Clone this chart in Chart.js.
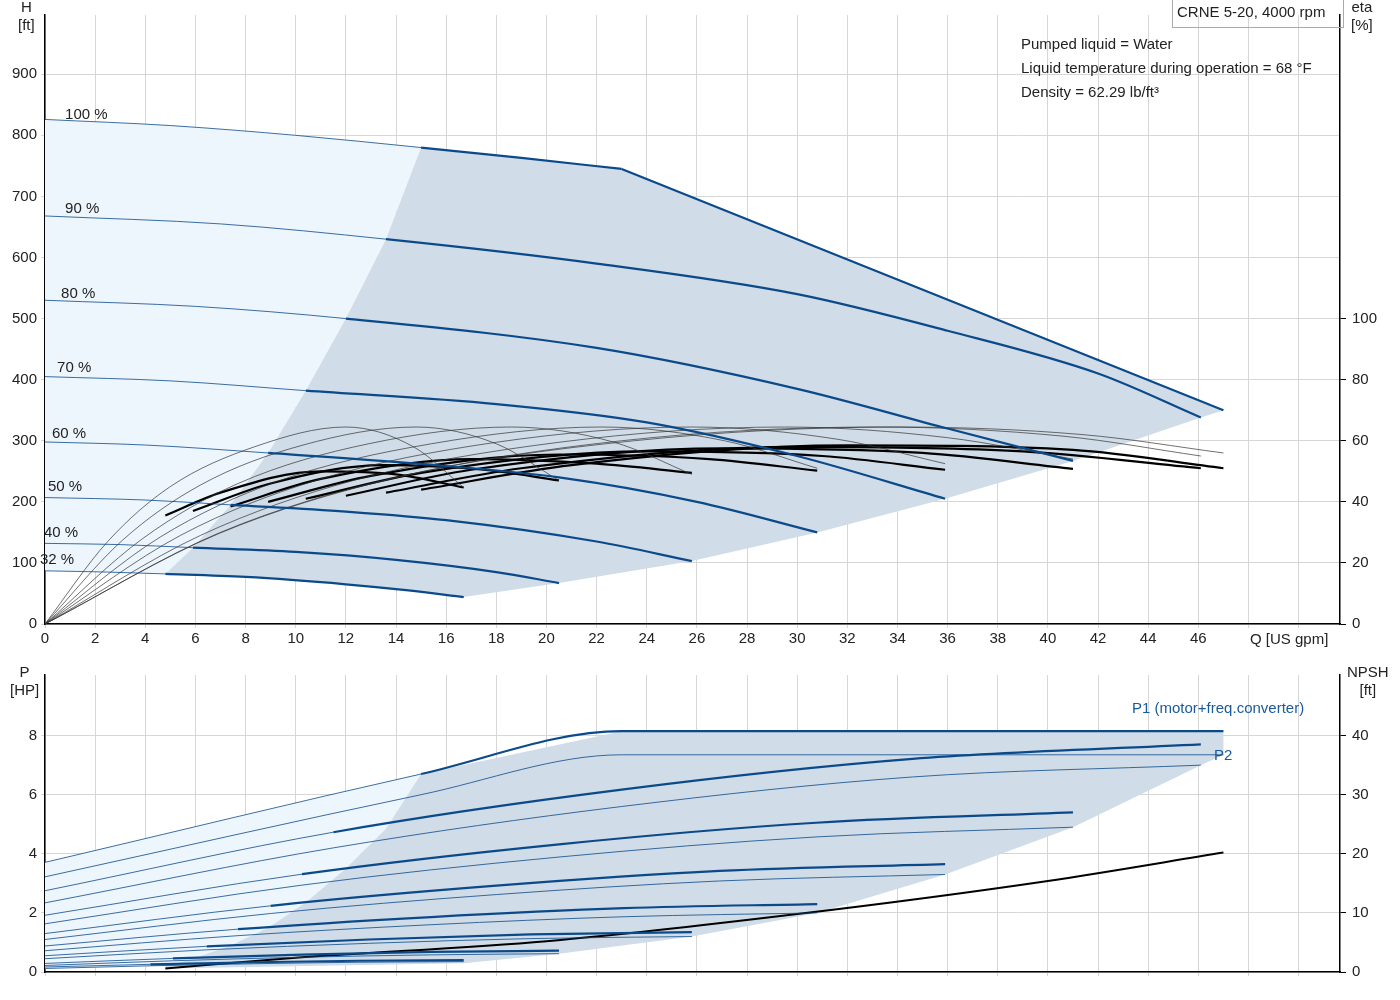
<!DOCTYPE html>
<html><head><meta charset="utf-8">
<script src="https://cdn.jsdelivr.net/npm/chart.js@4.4.1/dist/chart.umd.min.js"></script>
<style>
body{margin:0;background:#fff;font-family:"Liberation Sans",Arial,sans-serif;}
#wrap{position:relative;width:1400px;height:1000px;}
canvas{position:absolute;left:0;}
.t{position:absolute;font-size:15px;color:#222;white-space:nowrap;line-height:18px;}
</style></head><body><div id="wrap">
<canvas id="c1" style="top:0" width="1400" height="660"></canvas>
<canvas id="c2" style="top:660px" width="1400" height="340"></canvas>
<div class="t" style="left:18px;top:-2px;text-align:center">H<br>[ft]</div>
<div class="t" style="left:1351px;top:-2px;text-align:center">eta<br>[%]</div>
<div class="t" style="left:1250px;top:630px">Q [US gpm]</div>
<div class="t" style="left:10px;top:663px;text-align:center">P<br>[HP]</div>
<div class="t" style="left:1347px;top:663px;text-align:center">NPSH<br>[ft]</div>
<div class="t" style="left:1172px;top:0;width:166px;height:27px;border:1px solid #aaa;border-top:none;padding-left:4px;line-height:24px">CRNE 5-20, 4000 rpm</div>
<div class="t" style="left:1021px;top:35px">Pumped liquid = Water</div>
<div class="t" style="left:1021px;top:59px">Liquid temperature during operation = 68 °F</div>
<div class="t" style="left:1021px;top:83px">Density = 62.29 lb/ft³</div>
<div class="t" style="left:1132px;top:699px;color:#1a5a9a">P1 (motor+freq.converter)</div>
<div class="t" style="left:1214px;top:746px;color:#1a5a9a">P2</div>
</div>
<script>
// ---- data ----
const speeds = ["100 %","90 %","80 %","70 %","60 %","50 %","40 %","32 %"];
const qStart = [15,13.6,12,10.4,8.9,7.4,5.9,4.8];
const hQ = [[0,5,10,15,19,23],[0,7,13.6,22,30,36,42,46.1],[0,6,12,22,30,36,41],[0,5,10.4,18,24,30,35.9],[0,4,8.9,15,20.5,26,30.8],[0,4,7.4,12,16,22,25.8],[0,3,5.9,10,14,18,20.5],[0,2.5,4.8,8,12,14.5,16.7]];
const hH = [[826,816,800,780,763,745],[668,655,630,590,540,480,410,338],[530,520,500,452,385,320,267],[405,398,382,360,330,275,205],[298,293,280,262,240,200,150],[207,203,195,184,170,135,103],[132,130,125,118,105,85,67],[87,85,82,77,65,55,44]];
const limitQ = [23,47], limitH = [745,350];
const boundQ = [4.8,5.9,7.4,8.9,10.4,12,13.6,15], boundH = [82,125,195,280,382,500,630,780];
const endQ = [16.7,20.5,25.8,30.8,35.9,41,46.1,47], endH = [44,67,103,150,205,267,338,350];
const labQ = [0.8,0.8,0.64,0.48,0.28,0.12,-0.04,-0.2], labH = [834,679,540,419,312,224,150,105];
// thin efficiency curves
const etaQ = [[0,7,14,23.5,34,41.4,47],[0,6.9,13.8,23,33.2,40.6,46.1],[0,6.2,12.3,20.5,29.5,36,41],[0,5.4,10.8,18,25.8,31.6,35.9],[0,4.6,9.2,15.4,22.2,27.1,30.8],[0,3.9,7.7,12.9,18.6,22.7,25.8],[0,3.1,6.2,10.25,14.8,18,20.5],[0,2.5,5,8.35,12,14.7,16.7]];
const etaV = [[0,30,48,60,64.5,62,56],[0,29.5,47.5,60,64.5,61.5,55],[0,29,47,59.5,64.5,61,54],[0,29,47,59.5,64.5,60.5,52.5],[0,28.5,46.5,59,64.5,60,51],[0,28,46,59,64.5,59.5,49],[0,27.5,45.5,58.5,64.5,59,47],[0,27,45,58,64.5,58,44.7]];
// thick total efficiency curves
const etatQ = [[15,21,32,41,47],[13.6,19,30,39,46.1],[12,17,27,35,41],[10.4,15,24,31,35.9],[8.9,13,20.5,26.5,30.8],[7.4,11,17,22,25.8],[5.9,9,13.5,17.5,20.5],[4.8,7,11,14,16.7]];
const etatV = [[44,52,58.5,57,51],[43,51,58,56.5,51],[42,50.5,57.5,56,50.8],[41,49.5,56.5,55,50.5],[40,48.5,55.5,54,50.2],[38.5,47.5,54,52.5,49.5],[37,46,52,50.5,47],[35.5,43,50,49,44.7]];
// power
const pQ = [[0,15,23,35,47],[0,11.5,23,34.6,46.1],[0,10.25,20.5,30.75,41],[0,9,18,26.9,35.9],[0,7.7,15.4,23.1,30.8],[0,6.45,12.9,19.35,25.8],[0,5.1,10.25,15.4,20.5],[0,4.2,8.35,12.5,16.7]];
const p1 = [[3.71,6.7,8.15,8.15,8.15],[2.75,4.73,6.17,7.21,7.7],[1.92,3.31,4.32,5.05,5.4],[1.3,2.24,2.92,3.42,3.65],[0.88,1.45,1.86,2.16,2.3],[0.55,0.87,1.1,1.27,1.35],[0.29,0.46,0.59,0.68,0.72],[0.17,0.26,0.33,0.38,0.4]];
const p2Q = [[0,15,23,47],[0,11.5,23,34.6,46.1],[0,10.25,20.5,30.75,41],[0,9,18,26.9,35.9],[0,7.7,15.4,23.1,30.8],[0,6.45,12.9,19.35,25.8],[0,5.1,10.25,15.4,20.5],[0,4.2,8.35,12.5,16.7]];
const p2 = [[3.22,6.0,7.35,7.35],[2.34,4.2,5.6,6.6,7.0],[1.63,2.94,3.89,4.57,4.9],[1.1,1.98,2.62,3.08,3.3],[0.72,1.23,1.6,1.87,2.0],[0.45,0.75,0.97,1.13,1.2],[0.22,0.38,0.5,0.58,0.62],[0.12,0.21,0.28,0.33,0.35]];
const pBoundQ = [4.8,5.9,7.4,8.9,10.4,12,13.6,15], pBoundP = [0.2,0.45,0.9,1.5,2.35,3.5,4.85,6.7];
const p2EndQ = [47,46.1,41,35.9,30.8,25.8,20.5,16.7], p2EndP = [7.35,7.0,4.9,3.3,2.0,1.2,0.62,0.3];
const npshQ = [4.8,10,20,30,40,47], npshV = [0.6,2.4,5.2,9.8,15.4,20.2];

const BLUE='#0b4a8a', LIGHT='#edf5fd', DARK='#d0dce7', GRID='#d6d6d6';
const FONT={family:'"Liberation Sans",Arial,sans-serif',size:15};
Chart.defaults.font=FONT; Chart.defaults.color='#222';
const pts=(xs,ys)=>xs.map((x,i)=>({x,y:ys[i]}));
const zip=(xs,ys)=>xs.map((x,i)=>[x,ys[i]]);

function polyPlugin(getPolys, yId){
  return {id:'poly',beforeDatasetsDraw(ch){
    const c=ch.ctx,xs=ch.scales.x,ys=ch.scales[yId];
    c.save();c.beginPath();c.rect(ch.chartArea.left,ch.chartArea.top,ch.chartArea.width,ch.chartArea.height);c.clip();
    getPolys().forEach(([col,arr])=>{c.beginPath();arr.forEach(([x,y],i)=>{const px=xs.getPixelForValue(x),py=ys.getPixelForValue(y);i?c.lineTo(px,py):c.moveTo(px,py);});c.closePath();c.fillStyle=col;c.fill();});
    c.restore();}};
}
function fixW(w){return s=>{s.width=w;};}
function fixH(h){return s=>{s.height=h;};}
const filt=(step,maxV)=>s=>{s.ticks=s.ticks.filter(t=>Math.abs(t.value/step-Math.round(t.value/step))<1e-6 && t.value<=maxV+1e-6);};
const seg=qs=>({borderWidth:c=>c.p0.parsed.x>=qs-1e-6?2.2:0.8});

// ---- top chart ----
const ds1=[];
hQ.forEach((q,i)=>ds1.push({data:pts(q,hH[i]),borderColor:BLUE,borderWidth:0.8,segment:seg(qStart[i]),yAxisID:'y',pointRadius:0,cubicInterpolationMode:'monotone'}));
ds1.push({data:pts(limitQ,limitH),borderColor:BLUE,borderWidth:2.2,yAxisID:'y',pointRadius:0});
etaQ.forEach((q,i)=>ds1.push({data:pts(q,etaV[i]),borderColor:'#333',borderWidth:0.7,yAxisID:'y2',pointRadius:0,cubicInterpolationMode:'monotone'}));
etatQ.forEach((q,i)=>ds1.push({data:pts(q,etatV[i]),borderColor:'#000',borderWidth:2.2,yAxisID:'y2',pointRadius:0,cubicInterpolationMode:'monotone'}));

const topPolys=()=>{
  const dark=[...zip(boundQ,boundH),...zip(hQ[0].slice(4),hH[0].slice(4)),[47,350],...zip(endQ,endH).reverse(),...zip(hQ[7].slice(2),hH[7].slice(2)).reverse()];
  const light=[[0,87],...zip(hQ[0].slice(0,4),hH[0].slice(0,4)),...zip(boundQ,boundH).reverse(),...zip(hQ[7].slice(0,3),hH[7].slice(0,3)).reverse()];
  return [[LIGHT,light],[DARK,dark]];
};
const labPlugin={id:'labs',afterDatasetsDraw(ch){const c=ch.ctx;c.save();c.font='15px "Liberation Sans",Arial';c.fillStyle='#222';c.textBaseline='middle';
  speeds.forEach((s,i)=>c.fillText(s,ch.scales.x.getPixelForValue(labQ[i]),ch.scales.y.getPixelForValue(labH[i])));c.restore();}};

new Chart(document.getElementById('c1'),{type:'line',data:{datasets:ds1},plugins:[polyPlugin(topPolys,'y'),labPlugin],
options:{responsive:false,animation:false,layout:{padding:0},plugins:{legend:{display:false},tooltip:{enabled:false}},
scales:{
 x:{type:'linear',min:0,max:51.65,afterFit:fixH(36),afterBuildTicks:s=>{s.ticks=[];for(let v=0;v<=50;v+=2)s.ticks.push({value:v});},
    ticks:{callback:v=>v<=46?v:'',maxRotation:0,autoSkip:false,padding:2},grid:{color:GRID,tickLength:4},border:{color:'#000',width:1.5}},
 y:{position:'left',min:0,max:997,afterFit:fixW(45),afterBuildTicks:filt(100,900),ticks:{padding:4},grid:{color:GRID,tickLength:4},border:{color:'#000',width:1.5}},
 y2:{position:'right',min:0,max:199.4,afterFit:fixW(60),afterBuildTicks:filt(20,100),ticks:{padding:6},grid:{drawOnChartArea:false,tickLength:6,color:'#000'},border:{color:'#000',width:1.5}}
}}});

// ---- bottom chart ----
const ds2=[];
pQ.forEach((q,i)=>ds2.push({data:pts(q,p1[i]),borderColor:BLUE,borderWidth:0.8,segment:seg(i===0?15:qStart[i]-2.2),yAxisID:'y',pointRadius:0,cubicInterpolationMode:'monotone'}));
p2Q.forEach((q,i)=>ds2.push({data:pts(q,p2[i]),borderColor:BLUE,borderWidth:0.8,yAxisID:'y',pointRadius:0,cubicInterpolationMode:'monotone'}));
ds2.push({data:pts(npshQ,npshV),borderColor:'#000',borderWidth:2,yAxisID:'y2',pointRadius:0,cubicInterpolationMode:'monotone'});
const botPolys=()=>{
  const dark=[...zip(pBoundQ,pBoundP),[23,8.15],[47,8.15],...zip(p2EndQ,p2EndP),[4.8,0.12]];
  const light=[[0,0.1],[0,3.71],[15,6.7],...zip(pBoundQ,pBoundP).reverse()];
  return [[LIGHT,light],[DARK,dark]];
};
new Chart(document.getElementById('c2'),{type:'line',data:{datasets:ds2},plugins:[polyPlugin(botPolys,'y')],
options:{responsive:false,animation:false,layout:{padding:{top:3}},plugins:{legend:{display:false},tooltip:{enabled:false}},
scales:{
 x:{type:'linear',min:0,max:51.65,afterFit:fixH(28),afterBuildTicks:s=>{s.ticks=[];for(let v=0;v<=50;v+=2)s.ticks.push({value:v});},
    ticks:{display:false},grid:{color:GRID,tickLength:4},border:{color:'#000',width:1.5}},
 y:{position:'left',min:0,max:10.05,afterFit:fixW(45),afterBuildTicks:filt(2,8),ticks:{padding:4},grid:{color:GRID,tickLength:4},border:{color:'#000',width:1.5}},
 y2:{position:'right',min:0,max:50.25,afterFit:fixW(60),afterBuildTicks:filt(10,40),ticks:{padding:6},grid:{drawOnChartArea:false,tickLength:6,color:'#000'},border:{color:'#000',width:1.5}}
}}});
</script></body></html>
